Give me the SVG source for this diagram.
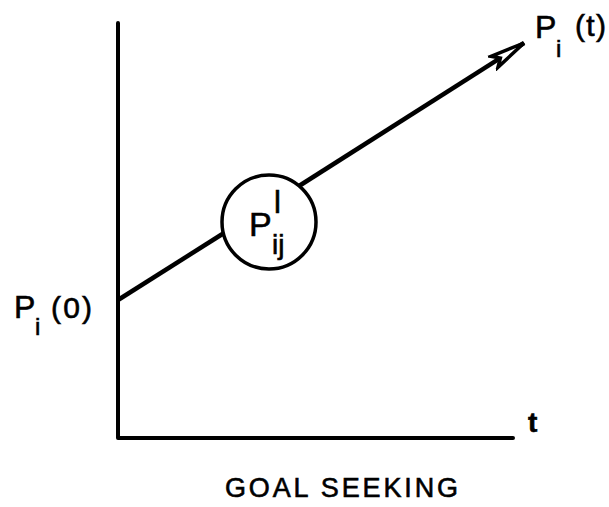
<svg xmlns="http://www.w3.org/2000/svg" width="609" height="507" viewBox="0 0 609 507">
<style>
.ax{stroke:#000;stroke-width:4;fill:none;stroke-linecap:round;stroke-linejoin:round}
.ln{stroke:#000;stroke-width:4.5;fill:none}
.t{font-family:"Liberation Sans",Arial,sans-serif;fill:#000;stroke:#000;stroke-width:0.6}
</style>
<defs>
<marker id="arr" markerUnits="userSpaceOnUse" markerWidth="44" markerHeight="24" refX="38" refY="12" orient="auto">
<path d="M3,5.5 L38,12 L3,18.5 L10,12 Z" fill="#fff" stroke="#000" stroke-width="3.5" stroke-linejoin="miter"/>
</marker>
</defs>
<rect width="609" height="507" fill="#fff"/>
<g id="connectors">
<path class="ax" d="M118,23 L118,438 L513,438"/>
<path class="ln" d="M118,300 L224,233"/>
<path class="ln" d="M299,186 L524,43" marker-end="url(#arr)"/>
</g>
<g id="node-pij">
<circle cx="269" cy="222" r="47" fill="#fff" stroke="#000" stroke-width="3.5"/>
<text class="t" x="249" y="236" font-size="34">P</text>
<text class="t" x="274" y="213" font-size="31">l</text>
<text class="t" x="272" y="254" font-size="28">ij</text>
</g>
<g id="label-pit">
<text class="t" x="535" y="38" font-size="32">P</text>
<text class="t" x="556" y="57" font-size="24">i</text>
<text class="t" x="575" y="36" font-size="30" textLength="31" lengthAdjust="spacing">(t)</text>
</g>
<g id="label-pi0">
<text class="t" x="14" y="318" font-size="32">P</text>
<text class="t" x="35" y="335" font-size="24">i</text>
<text class="t" x="51" y="318" font-size="30" textLength="41" lengthAdjust="spacing">(0)</text>
</g>
<g id="label-t">
<text class="t" x="528" y="432" font-size="28" font-weight="bold">t</text>
</g>
<g id="caption">
<text class="t" x="225" y="497" font-size="27" textLength="233" lengthAdjust="spacing">GOAL  SEEKING</text>
</g>
</svg>
